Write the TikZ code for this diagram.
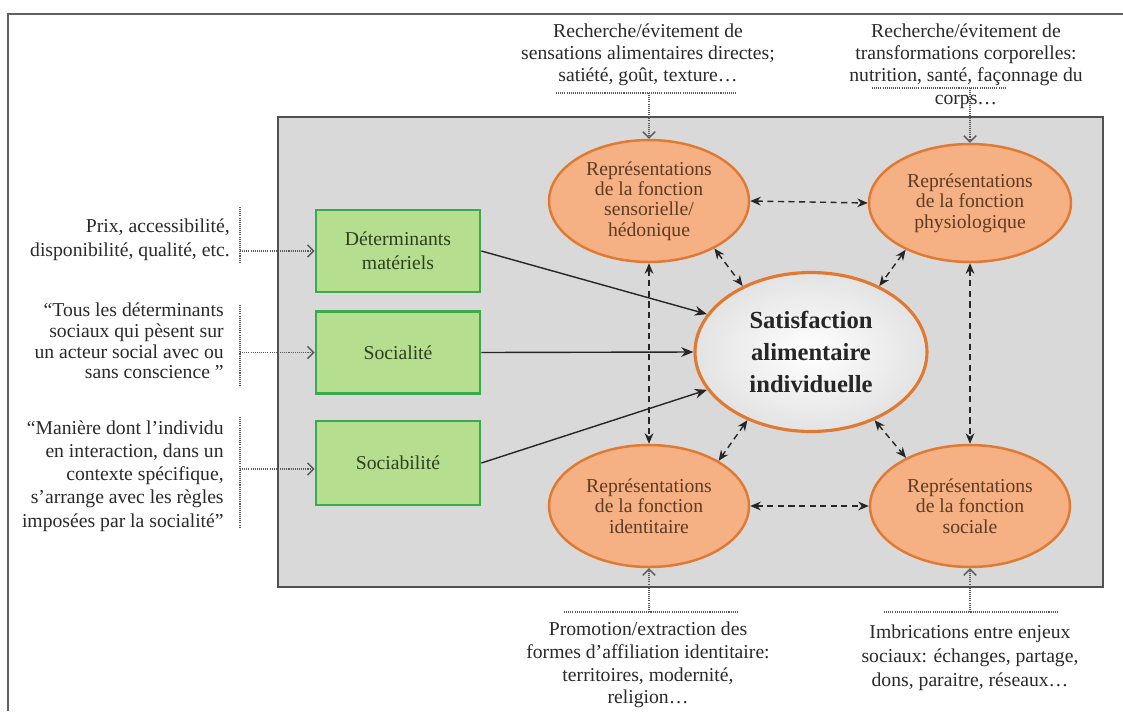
\documentclass[tikz,border=0pt]{standalone}
\usepackage{fontspec}
\setmainfont{Liberation Serif}
\usetikzlibrary{shapes.geometric,arrows.meta}
\definecolor{GreenFill}{HTML}{B5DF8E}
\definecolor{GreenLine}{HTML}{3BAA4C}
\definecolor{GreenText}{HTML}{2E3F20}
\definecolor{OrFill}{HTML}{F5B084}
\definecolor{OrLine}{HTML}{E07A32}
\definecolor{BrownText}{HTML}{5E3B22}
\definecolor{BoxGray}{HTML}{D9D9D9}
\definecolor{BoxLine}{HTML}{505050}
\definecolor{AnnText}{HTML}{2A2A2A}
\tikzset{
  frameline/.style={draw=BoxLine!90, line width=1.2pt},
  graybox/.style={fill=BoxGray, draw=BoxLine, line width=1.1pt},
  greenbox/.style={rectangle, fill=GreenFill, draw=GreenLine, line width=1.6pt,
    minimum width=3.28cm, minimum height=1.64cm, inner sep=2pt, align=center,
    text=GreenText, font=\fontsize{11.2}{13.5}\selectfont},
  oval/.style={ellipse, fill=OrFill, draw=OrLine, line width=1.4pt, inner sep=0pt,
    minimum width=4cm, minimum height=2.44cm, align=center, text=BrownText,
    font=\fontsize{11.2}{11.6}\selectfont},
  satoval/.style={ellipse, shading=radial, inner color=white, outer color=gray!22,
    draw=OrLine, line width=1.8pt, inner sep=0pt, minimum width=4.64cm,
    minimum height=3.18cm, align=center, text=black!85,
    font=\fontsize{14}{18}\selectfont\bfseries},
  anntext/.style={align=center, text=AnnText, inner sep=0pt},
  solidarrow/.style={-{Stealth[length=7pt,width=5.5pt]}, line width=0.8pt, draw=black!85},
  dasharrow/.style={{Stealth[length=6pt,width=5pt]}-{Stealth[length=6pt,width=5pt]},
    dash pattern=on 3.5pt off 2.5pt, line width=0.8pt, draw=black!85},
  dotline/.style={draw=gray!70!black, line width=0.6pt, dash pattern=on 0.6pt off 0.6pt},
  annarrow/.style={dotline, -{Straight Barb[length=3.5pt,width=7pt,line width=0.8pt]}},
}
\begin{document}
\begin{tikzpicture}[x=0.02cm, y=-0.02cm]
\useasboundingbox (0,0) rectangle (1123,711);
\clip (0,0) rectangle (1123,711);
\fill[white] (0,0) rectangle (1123,711);
% outer frame
\draw[frameline] (8,711) -- (8,14) -- (1123,14);
% gray box
\draw[graybox] (278,117) rectangle (1103,587);

% green boxes
\node[greenbox] (box1) at (398,251) {Déterminants\\matériels};
\node[greenbox] (box2) at (398,352.5) {Socialité};
\node[greenbox, minimum height=1.68cm] (box3) at (398,463) {Sociabilité};

% central satisfaction
\node[satoval] (sat) at (811,352) {Satisfaction\\alimentaire\\individuelle};

% orange ellipses
\node[oval] (sens) at (649,201) {Représentations\\de la fonction\\sensorielle/\\hédonique};
\node[oval, minimum width=4.04cm, minimum height=2.36cm] (phys) at (970,203) {Représentations\\de la fonction\\physiologique};
\node[oval] (ident) at (649,506) {Représentations\\de la fonction\\identitaire};
\node[oval] (soc) at (970,506) {Représentations\\de la fonction\\sociale};

% solid arrows
\draw[solidarrow] (box1.east) -- (sat.160);
\draw[solidarrow] (box2.east) -- (sat.west);
\draw[solidarrow] (box3.east) -- (sat.200);

% dashed double arrows
\draw[dasharrow] (sens.east) -- (phys.west);
\draw[dasharrow] (ident.east) -- (soc.west);
\draw[dasharrow] (sens.south) -- (ident.north);
\draw[dasharrow] (phys.south) -- (soc.north);
\draw[dasharrow] (sens.-36) -- (sat.136);
\draw[dasharrow] (phys.-144) -- (sat.44);
\draw[dasharrow] (sat.-133) -- (ident.33);
\draw[dasharrow] (sat.-47) -- (soc.143);

% left annotations
\node[anntext, anchor=east, align=right, font=\fontsize{11.2}{13.6}\selectfont] (tl1) at (230,240)
  {Prix, accessibilité,\\disponibilité, qualité, etc.};
\node[anntext, anchor=east, align=right, font=\fontsize{11.2}{11.7}\selectfont] (tl2) at (224,341)
  {“Tous les déterminants\\sociaux qui pèsent sur\\un acteur social avec ou\\sans conscience ”};
\node[anntext, anchor=east, align=right, font=\fontsize{11.2}{13.2}\selectfont] (tl3) at (224,476)
  {“Manière dont l’individu\\en interaction, dans un\\contexte spécifique,\\s’arrange avec les règles\\imposées par la socialité”};

\coordinate (v1t) at (240,207); \coordinate (v1b) at (240,263); \coordinate (a1) at (240,251);
\coordinate (v2t) at (240,305); \coordinate (v2b) at (240,387); \coordinate (a2) at (240,352.5);
\coordinate (v3t) at (240,417); \coordinate (v3b) at (240,527); \coordinate (a3) at (240,469);
\draw[dotline] (v1t) -- (v1b);
\draw[dotline] (v2t) -- (v2b);
\draw[dotline] (v3t) -- (v3b);
\draw[annarrow] (a1) -- (a1 -| box1.west);
\draw[annarrow] (a2) -- (a2 -| box2.west);
\draw[annarrow] (a3) -- (a3 -| box3.west);

% top annotations
\node[anntext, font=\fontsize{11.2}{12.6}\selectfont] (tt1) at (648,55)
  {Recherche/évitement de\\sensations alimentaires directes;\\satiété, goût, texture…};
\node[anntext, font=\fontsize{11.2}{12.8}\selectfont] (tt2) at (966,66)
  {Recherche/évitement de\\transformations corporelles:\\nutrition, santé, façonnage du\\corps…};
\coordinate (h1l) at (556,93); \coordinate (h1r) at (737,93); \coordinate (h1m) at (649,93);
\coordinate (h2l) at (872,88); \coordinate (h2r) at (1005,88); \coordinate (h2m) at (970,88);
\draw[dotline] (h1l) -- (h1r);
\draw[dotline] (h2l) -- (h2r);
\draw[annarrow] (h1m) -- (sens.north);
\draw[annarrow] (h2m) -- (phys.north);

% bottom annotations
\node[anntext, font=\fontsize{11.2}{12.9}\selectfont] (bt1) at (648,665)
  {Promotion/extraction des\\formes d’affiliation identitaire:\\territoires, modernité,\\religion…};
\node[anntext, font=\fontsize{11.2}{13.6}\selectfont] (bt2) at (970,658)
  {Imbrications entre enjeux\\sociaux: échanges, partage,\\dons, paraitre, réseaux…};
\coordinate (g1l) at (564,612); \coordinate (g1r) at (738,612); \coordinate (g1m) at (649,612);
\coordinate (g2l) at (884,612); \coordinate (g2r) at (1058,612); \coordinate (g2m) at (970,612);
\draw[dotline] (g1l) -- (g1r);
\draw[dotline] (g2l) -- (g2r);
\draw[annarrow] (g1m) -- (ident.south);
\draw[annarrow] (g2m) -- (soc.south);
\end{tikzpicture}
\end{document}
